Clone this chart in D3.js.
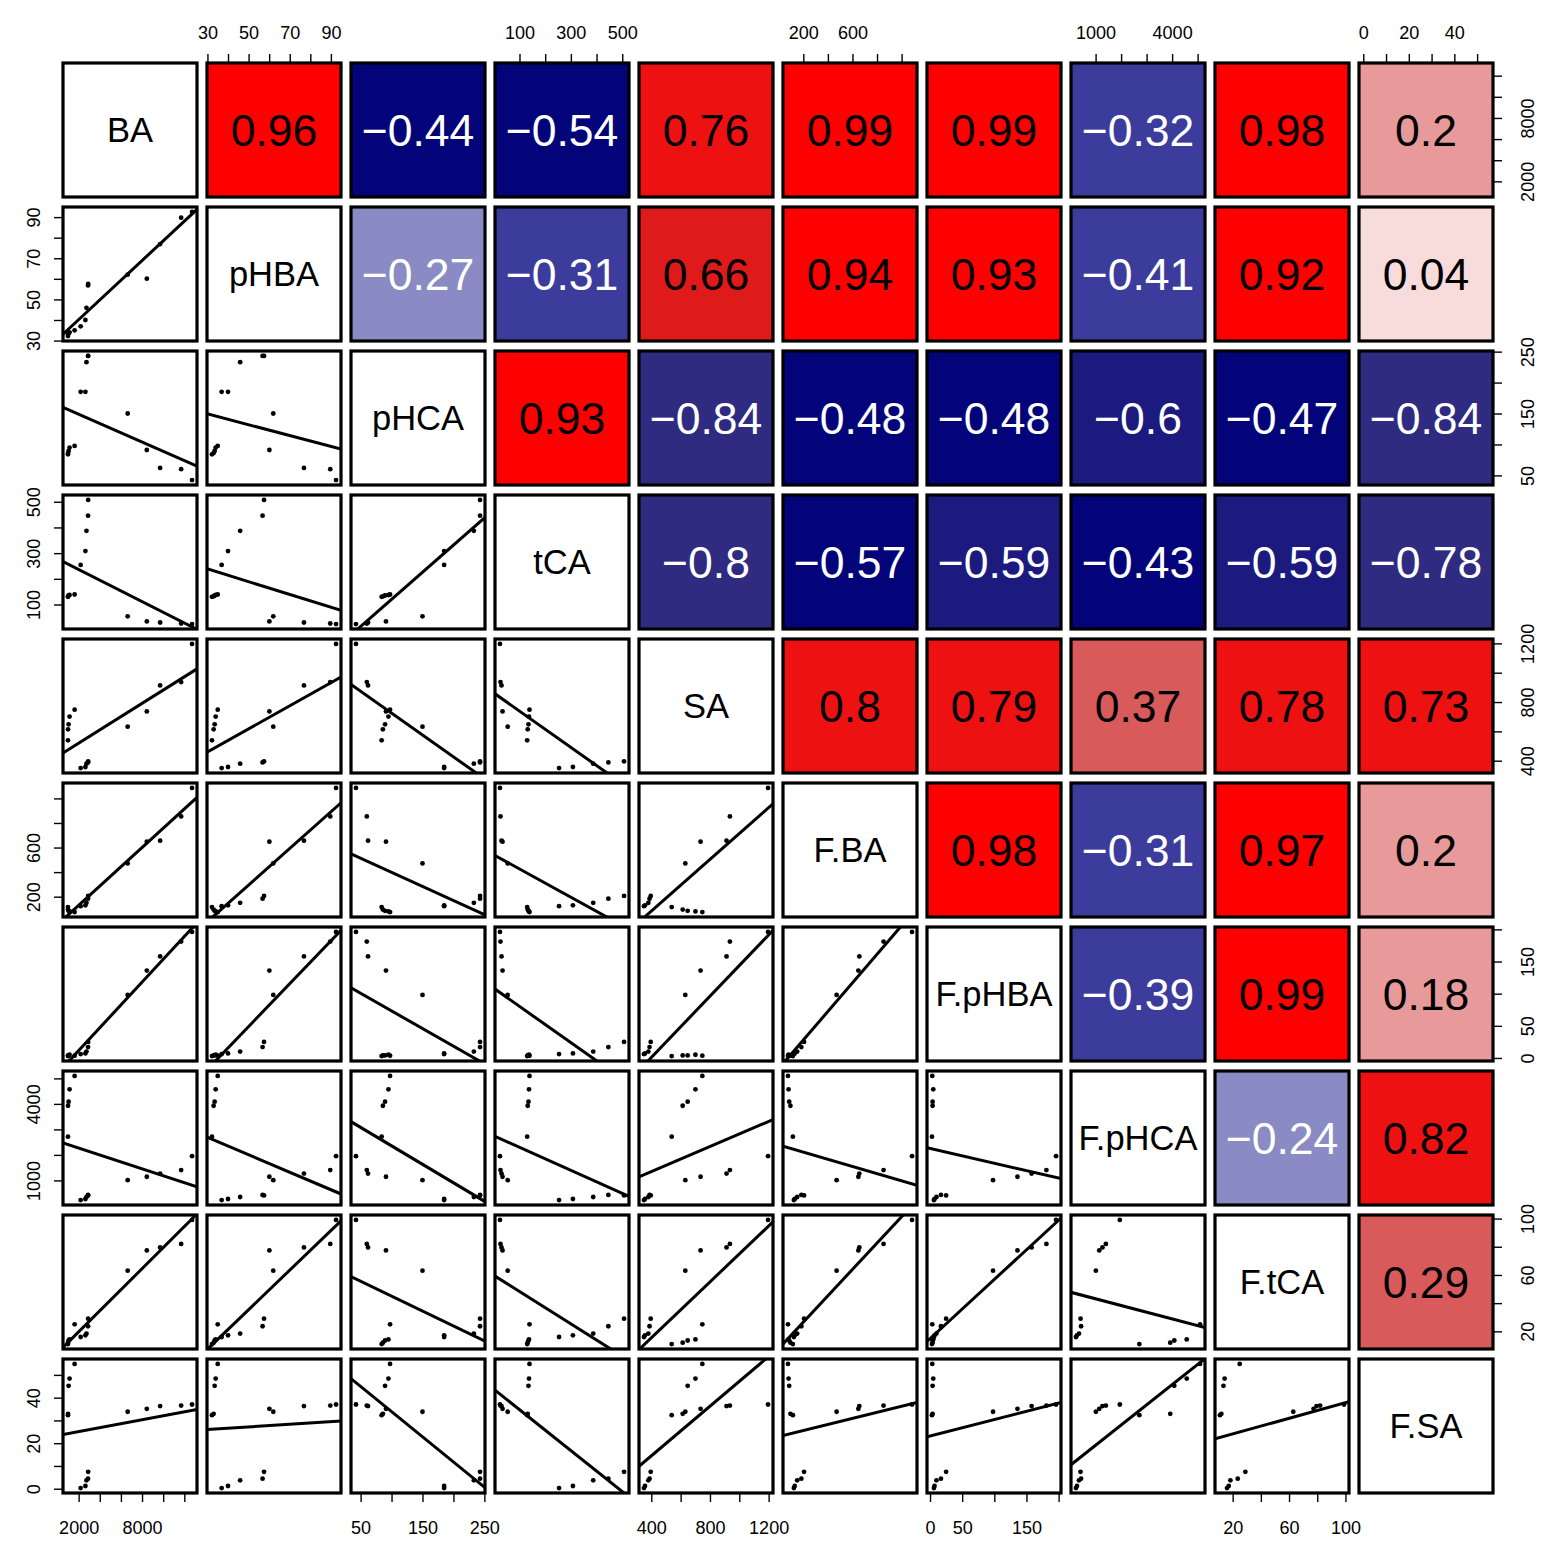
<!DOCTYPE html>
<html>
<head>
<meta charset="utf-8">
<script src="https://cdn.jsdelivr.net/npm/d3@7"></script>
<style>
  body { margin: 0; background: #fff; }
  svg { display: block; font-family: "Liberation Sans", Arial, Helvetica, sans-serif; }
</style>
</head>
<body>
<div id="chart"></div>
<script>
// Variable names, shown on the diagonal
const varNames = ['BA', 'pHBA', 'pHCA', 'tCA', 'SA', 'F.BA', 'F.pHBA', 'F.pHCA', 'F.tCA', 'F.SA'];

// 15 samples, values
const BA     = [990, 1000, 1050, 1140, 1620, 2190, 2640, 2740, 2890, 2900, 6640, 8450, 9710, 11700, 12730];
const pHBA   = [32.2, 33.0, 33.5, 34.0, 35.0, 36.9, 40.0, 45.9, 56.8, 57.5, 62.0, 60.1, 76.9, 89.7, 92.5];
const pHCA   = [84, 86, 89.5, 95, 97.6, 185, 185, 233, 243, 243, 150, 91, 62, 60, 42.5];
const tCA    = [130, 132, 135, 137, 139, 254, 308, 387, 446, 507, 54, 34, 30, 26, 24];
const SA     = [539, 614, 648, 701, 748, 350, 357, 380, 388, 396, 632, 736, 913, 936, 1196];
const F_BA   = [115, 95, 85, 80, 75, 123, 130, 150, 184, 206, 471, 648, 656, 853, 1085];
const F_pHBA = [3, 4, 4, 5, 3.5, 6, 7, 10, 17, 25, 98, 136, 158, 181, 196];
const F_pHCA = [2715, 3927, 4086, 4573, 5095, 230, 270, 350, 430, 410, 1010, 1144, 1268, 1403, 1949];
const F_tCA  = [11, 12, 13.5, 14.3, 25, 16, 17.2, 18.4, 23.6, 29, 63, 77.4, 79.5, 82, 99];
const F_SA   = [32.3, 32.9, 45.2, 48.4, 54.8, 0.3, 1.2, 3.7, 4.4, 7.4, 33.8, 35.1, 36.3, 36.5, 37];

const columns = [BA, pHBA, pHCA, tCA, SA, F_BA, F_pHBA, F_pHCA, F_tCA, F_SA];

// Correlations printed in the upper panels, row by row
const corrValues = [
  0.96, -0.44, -0.54, 0.76, 0.99, 0.99, -0.32, 0.98, 0.2,
  -0.27, -0.31, 0.66, 0.94, 0.93, -0.41, 0.92, 0.04,
  0.93, -0.84, -0.48, -0.48, -0.6, -0.47, -0.84,
  -0.8, -0.57, -0.59, -0.43, -0.59, -0.78,
  0.8, 0.79, 0.37, 0.78, 0.73,
  0.98, -0.31, 0.97, 0.2,
  -0.39, 0.99, 0.18,
  -0.24, 0.82,
  0.29
];

const n = varNames.length;
const origin = 63;
const step = 144;
const size = 134;
const tickFmt = d3.format('d');

// correlation colours
const corrColor = d3.scaleThreshold()
  .domain([-0.7, -0.585, -0.42, -0.29, -0.1, 0.1, 0.25, 0.5, 0.7, 0.9])
  .range(['#2f2b81', '#1c1a7f', '#03037a', '#3c3c9c', '#8a8ac4', '#f8dcdc',
          '#e89a9a', '#d85a5a', '#de1a1a', '#ee1111', '#ff0000']);

// lookup r for row i < col j
const corr = {};
let k = 0;
for (let i = 0; i < n; i++) {
  for (let j = i + 1; j < n; j++) {
    corr[i + '_' + j] = corrValues[k++];
  }
}

// scales: data range with 4% padding, like R's usr
const xScales = columns.map(vals => {
  const ext = d3.extent(vals);
  const pad = (ext[1] - ext[0]) * 0.04;
  return d3.scaleLinear().domain([ext[0] - pad, ext[1] + pad]).range([0, size]);
});
const yScales = xScales.map(s => s.copy().range([size, 0]));

const svg = d3.select('#chart')
  .append('svg')
  .attr('width', 1559)
  .attr('height', 1559);

svg.append('rect').attr('width', 1559).attr('height', 1559).attr('fill', '#fff');

const defs = svg.append('defs');
defs.append('clipPath')
  .attr('id', 'panel-clip')
  .append('rect')
  .attr('width', size)
  .attr('height', size);

function fitLine(xs, ys) {
  const mx = d3.mean(xs), my = d3.mean(ys);
  let sxy = 0, sxx = 0;
  xs.forEach((x, i) => {
    sxy += (x - mx) * (ys[i] - my);
    sxx += (x - mx) * (x - mx);
  });
  const b = sxy / sxx;
  return { a: my - b * mx, b: b };
}

for (let i = 0; i < n; i++) {
  for (let j = 0; j < n; j++) {
    const g = svg.append('g')
      .attr('transform', `translate(${origin + j * step},${origin + i * step})`);

    if (i === j) {
      g.append('rect').attr('width', size).attr('height', size).attr('fill', '#fff');
      g.append('text')
        .attr('x', size / 2)
        .attr('y', size / 2)
        .attr('dy', '0.36em')
        .attr('text-anchor', 'middle')
        .attr('font-size', 34.5)
        .text(varNames[i]);
    } else if (i < j) {
      const r = corr[i + '_' + j];
      g.append('rect').attr('width', size).attr('height', size).attr('fill', corrColor(r));
      g.append('text')
        .attr('x', size / 2)
        .attr('y', size / 2)
        .attr('dy', '0.36em')
        .attr('text-anchor', 'middle')
        .attr('font-size', 44.5)
        .attr('fill', r < 0 ? '#fff' : '#000')
        .text(String(r).replace('-', '\u2212'));
    } else {
      const xs = columns[j], ys = columns[i];
      const x = xScales[j], y = yScales[i];
      g.append('rect').attr('width', size).attr('height', size).attr('fill', '#fff');
      const inner = g.append('g').attr('clip-path', 'url(#panel-clip)');

      const fit = fitLine(xs, ys);
      const [x0, x1] = x.domain();
      inner.append('line')
        .attr('x1', x(x0)).attr('y1', y(fit.a + fit.b * x0))
        .attr('x2', x(x1)).attr('y2', y(fit.a + fit.b * x1))
        .attr('stroke', '#000')
        .attr('stroke-width', 3);

      inner.selectAll('circle')
        .data(xs.map((v, idx) => [v, ys[idx]]))
        .enter()
        .append('circle')
        .attr('cx', d => x(d[0]))
        .attr('cy', d => y(d[1]))
        .attr('r', 2.4)
        .attr('fill', '#000');
    }

    g.append('rect')
      .attr('width', size)
      .attr('height', size)
      .attr('fill', 'none')
      .attr('stroke', '#000')
      .attr('stroke-width', 3.2);
  }
}

// measure width of 'm' for label gap (R's gap.axis)
const probe = svg.append('text').attr('font-size', 18).text('m');
const mWidth = probe.node().getComputedTextLength();
probe.remove();

// hide labels that would crowd their neighbour
function thinLabels(axisG, scale) {
  let last = null;
  axisG.selectAll('.tick').each(function (d) {
    const t = d3.select(this).select('text');
    const w = t.node().getComputedTextLength();
    const pos = scale(d);
    if (last && Math.abs(pos - last.pos) - w / 2 - last.w / 2 < mWidth) {
      t.remove();
    } else {
      last = { pos: pos, w: w };
    }
  });
}

function styleAxis(axisG) {
  axisG.attr('font-size', 18).attr('font-family', null);
  axisG.select('.domain').remove();
  axisG.selectAll('.tick line').attr('stroke-width', 1.4);
  axisG.selectAll('.tick text').attr('fill', '#000');
}

// top axes
for (let j = 1; j < n; j += 2) {
  const ax = svg.append('g')
    .attr('transform', `translate(${origin + j * step},${origin})`)
    .call(d3.axisTop(xScales[j]).ticks(5).tickFormat(tickFmt).tickSize(9).tickSizeOuter(0));
  styleAxis(ax);
  ax.selectAll('.tick text').attr('y', -24.5).attr('dy', 0);
  thinLabels(ax, xScales[j]);
}

// bottom axes
for (let j = 0; j < n; j += 2) {
  const ax = svg.append('g')
    .attr('transform', `translate(${origin + j * step},${origin + (n - 1) * step + size})`)
    .call(d3.axisBottom(xScales[j]).ticks(5).tickFormat(tickFmt).tickSize(9).tickSizeOuter(0));
  styleAxis(ax);
  ax.selectAll('.tick text').attr('y', 40.5).attr('dy', 0);
  thinLabels(ax, xScales[j]);
}

// left axes
for (let i = 1; i < n; i += 2) {
  const ax = svg.append('g')
    .attr('transform', `translate(${origin},${origin + i * step})`)
    .call(d3.axisLeft(yScales[i]).ticks(5).tickFormat(tickFmt).tickSize(9).tickSizeOuter(0));
  styleAxis(ax);
  ax.selectAll('.tick text')
    .attr('x', 0).attr('y', -23.5).attr('dy', 0)
    .attr('text-anchor', 'middle')
    .attr('transform', 'rotate(-90)');
  thinLabels(ax, yScales[i]);
}

// right axes
for (let i = 0; i < n; i += 2) {
  const ax = svg.append('g')
    .attr('transform', `translate(${origin + (n - 1) * step + size},${origin + i * step})`)
    .call(d3.axisRight(yScales[i]).ticks(5).tickFormat(tickFmt).tickSize(9).tickSizeOuter(0));
  styleAxis(ax);
  ax.selectAll('.tick text')
    .attr('x', 0).attr('y', 40.5).attr('dy', 0)
    .attr('text-anchor', 'middle')
    .attr('transform', 'rotate(-90)');
  thinLabels(ax, yScales[i]);
}
</script>
</body>
</html>
